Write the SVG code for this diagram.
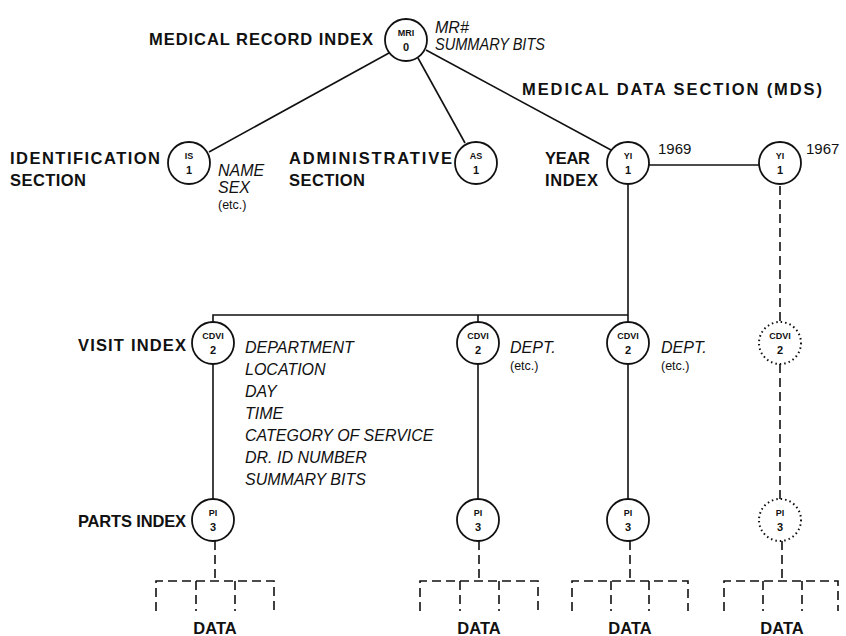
<svg xmlns="http://www.w3.org/2000/svg" width="846" height="636" viewBox="0 0 846 636">
<style>
.lbl{font-family:"Liberation Sans",Arial,sans-serif;font-weight:bold;font-size:16.5px;fill:#111}
.it{font-family:"Liberation Sans",Arial,sans-serif;font-style:italic;font-size:16px;fill:#111}
.sm{font-family:"Liberation Sans",Arial,sans-serif;font-size:12.5px;fill:#111}
.yr{font-family:"Liberation Sans",Arial,sans-serif;font-size:15px;fill:#111}
.nt{font-family:"Liberation Sans",Arial,sans-serif;font-weight:bold;font-size:9px;fill:#111;text-anchor:middle}
.nn{font-family:"Liberation Sans",Arial,sans-serif;font-weight:bold;font-size:11px;fill:#111;text-anchor:middle}
.c{fill:#fff;stroke:#111;stroke-width:1.8}
.cd{fill:#fff;stroke:#111;stroke-width:2;stroke-dasharray:1.5 3}
.ln{fill:none;stroke:#111;stroke-width:1.6}
.dl{fill:none;stroke:#111;stroke-width:1.6;stroke-dasharray:9 5}
</style>
<rect width="846" height="636" fill="#fff"/>
<g id="connectors">
<line class="ln" x1="389" y1="53" x2="209" y2="152"/>
<line class="ln" x1="418" y1="58" x2="465" y2="143"/>
<line class="ln" x1="426" y1="50" x2="611" y2="150"/>
<line class="ln" x1="649" y1="165" x2="759" y2="165"/>
<line class="ln" x1="628" y1="184" x2="628" y2="315"/>
<polyline class="ln" points="213,322 213,315 628,315"/>
<line class="ln" x1="478" y1="315" x2="478" y2="322"/>
<line class="ln" x1="628" y1="315" x2="628" y2="322"/>
<line class="dl" x1="780" y1="186" x2="780" y2="322"/>
<line class="ln" x1="213" y1="364" x2="213" y2="499"/>
<line class="ln" x1="478" y1="364" x2="478" y2="499"/>
<line class="ln" x1="628" y1="364" x2="628" y2="499"/>
<line class="dl" x1="780" y1="364" x2="780" y2="499"/>
<g id="data-bracket-1">
<line class="dl" x1="215" y1="541" x2="215" y2="581"/>
<path class="dl" d="M156,611 V581 H274 V611 M196,581 V611 M235,581 V611"/>
</g>
<g id="data-bracket-2">
<line class="dl" x1="479" y1="541" x2="479" y2="581"/>
<path class="dl" d="M420,611 V581 H538 V611 M460,581 V611 M499,581 V611"/>
</g>
<g id="data-bracket-3">
<line class="dl" x1="630" y1="541" x2="630" y2="581"/>
<path class="dl" d="M572,611 V581 H688 V611 M611,581 V611 M649,581 V611"/>
</g>
<g id="data-bracket-4">
<line class="dl" x1="782" y1="541" x2="782" y2="581"/>
<path class="dl" d="M724,611 V581 H838 V611 M763,581 V611 M802,581 V611"/>
</g>
</g>
<g id="mri">
<circle class="c" cx="406" cy="40" r="21"/>
<text class="nt" x="406" y="36">MRI</text>
<text class="nn" x="406" y="51">0</text>
<text class="lbl" x="149" y="45" textLength="224" lengthAdjust="spacing">MEDICAL RECORD INDEX</text>
<text class="it" x="435" y="33">MR#</text>
<text class="it" x="435" y="50" textLength="110" lengthAdjust="spacingAndGlyphs">SUMMARY BITS</text>
</g>
<text class="lbl" x="522" y="95" textLength="300" lengthAdjust="spacing">MEDICAL DATA SECTION (MDS)</text>
<g id="is">
<circle class="c" cx="189" cy="163" r="21"/>
<text class="nt" x="189" y="159">IS</text>
<text class="nn" x="189" y="174">1</text>
<text class="lbl" x="10" y="164" textLength="150" lengthAdjust="spacing">IDENTIFICATION</text>
<text class="lbl" x="10" y="186" textLength="76" lengthAdjust="spacing">SECTION</text>
<text class="it" x="218" y="176">NAME</text>
<text class="it" x="218" y="193">SEX</text>
<text class="sm" x="218" y="209">(etc.)</text>
</g>
<g id="as">
<circle class="c" cx="476" cy="163" r="21"/>
<text class="nt" x="476" y="159">AS</text>
<text class="nn" x="476" y="174">1</text>
<text class="lbl" x="289" y="164" textLength="163" lengthAdjust="spacing">ADMINISTRATIVE</text>
<text class="lbl" x="289" y="186" textLength="76" lengthAdjust="spacing">SECTION</text>
</g>
<g id="yi-1969">
<circle class="c" cx="628" cy="163" r="21"/>
<text class="nt" x="628" y="159">YI</text>
<text class="nn" x="628" y="174">1</text>
<text class="lbl" x="545" y="164" textLength="45" lengthAdjust="spacing">YEAR</text>
<text class="lbl" x="545" y="186" textLength="53" lengthAdjust="spacing">INDEX</text>
<text class="yr" x="658" y="154">1969</text>
</g>
<g id="yi-1967">
<circle class="c" cx="780" cy="163" r="21"/>
<text class="nt" x="780" y="159">YI</text>
<text class="nn" x="780" y="174">1</text>
<text class="yr" x="806" y="154">1967</text>
</g>
<g id="cdvi-1">
<circle class="c" cx="213" cy="343" r="21"/>
<text class="nt" x="213" y="339">CDVI</text>
<text class="nn" x="213" y="354">2</text>
<text class="lbl" x="78" y="351" textLength="108" lengthAdjust="spacing">VISIT INDEX</text>
<text class="it" x="245" y="353">DEPARTMENT</text>
<text class="it" x="245" y="375">LOCATION</text>
<text class="it" x="245" y="397">DAY</text>
<text class="it" x="245" y="419">TIME</text>
<text class="it" x="245" y="441">CATEGORY OF SERVICE</text>
<text class="it" x="245" y="463">DR. ID NUMBER</text>
<text class="it" x="245" y="485">SUMMARY BITS</text>
</g>
<g id="cdvi-2">
<circle class="c" cx="478" cy="343" r="21"/>
<text class="nt" x="478" y="339">CDVI</text>
<text class="nn" x="478" y="354">2</text>
<text class="it" x="510" y="353">DEPT.</text>
<text class="sm" x="510" y="370">(etc.)</text>
</g>
<g id="cdvi-3">
<circle class="c" cx="628" cy="343" r="21"/>
<text class="nt" x="628" y="339">CDVI</text>
<text class="nn" x="628" y="354">2</text>
<text class="it" x="661" y="353">DEPT.</text>
<text class="sm" x="661" y="370">(etc.)</text>
</g>
<g id="cdvi-4">
<circle class="cd" cx="780" cy="343" r="21"/>
<text class="nt" x="780" y="339">CDVI</text>
<text class="nn" x="780" y="354">2</text>
</g>
<g id="pi-1">
<circle class="c" cx="213" cy="520" r="21"/>
<text class="nt" x="213" y="516">PI</text>
<text class="nn" x="213" y="531">3</text>
<text class="lbl" x="78" y="527" textLength="108" lengthAdjust="spacing">PARTS INDEX</text>
<text class="lbl" x="215" y="634" text-anchor="middle">DATA</text>
</g>
<g id="pi-2">
<circle class="c" cx="478" cy="520" r="21"/>
<text class="nt" x="478" y="516">PI</text>
<text class="nn" x="478" y="531">3</text>
<text class="lbl" x="479" y="634" text-anchor="middle">DATA</text>
</g>
<g id="pi-3">
<circle class="c" cx="628" cy="520" r="21"/>
<text class="nt" x="628" y="516">PI</text>
<text class="nn" x="628" y="531">3</text>
<text class="lbl" x="630" y="634" text-anchor="middle">DATA</text>
</g>
<g id="pi-4">
<circle class="cd" cx="780" cy="520" r="21"/>
<text class="nt" x="780" y="516">PI</text>
<text class="nn" x="780" y="531">3</text>
<text class="lbl" x="782" y="634" text-anchor="middle">DATA</text>
</g>
</svg>
